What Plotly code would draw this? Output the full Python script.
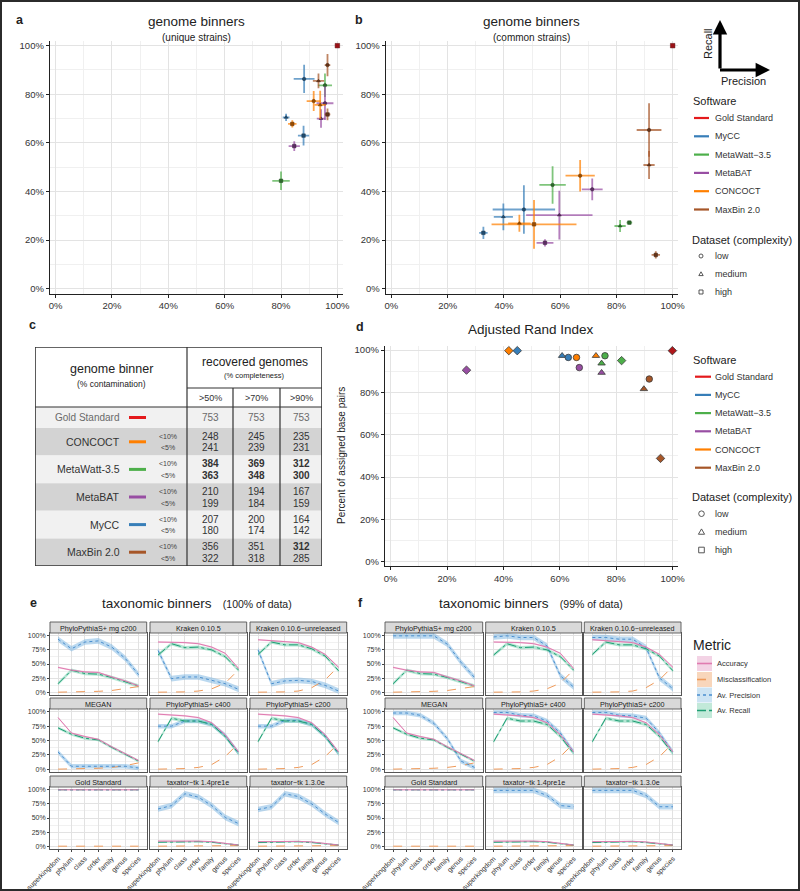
import plotly.graph_objects as go

W, H = 800, 891
FONT = "Liberation Sans, Arial, Helvetica, sans-serif"
INK = "#222222"

# ---------------- shared categories ----------------
SOFTWARE = ["Gold Standard", "MyCC", "MetaWatt-3.5", "MetaBAT", "CONCOCT", "MaxBin 2.0"]
SOFTWARE_LEGEND = ["Gold Standard", "MyCC", "MetaWatt\u22123.5", "MetaBAT", "CONCOCT", "MaxBin 2.0"]
SOFTWARE_COLORS = ["#e41a1c", "#377eb8", "#4daf4a", "#984ea3", "#ff7f00", "#a65628"]
COMPLEXITY = ["low", "medium", "high"]

# ---------------- panel a: unique strains ----------------
A_TOOL = ["Gold Standard", "MyCC", "MyCC", "MyCC", "CONCOCT", "CONCOCT", "CONCOCT",
          "MetaBAT", "MetaBAT", "MetaBAT", "MaxBin 2.0", "MaxBin 2.0", "MaxBin 2.0",
          "MetaWatt-3.5", "MetaWatt-3.5"]
A_COMPLEXITY = ["high", "low", "medium", "high", "low", "medium", "high",
                "low", "medium", "high", "low", "medium", "high", "low", "high"]
A_PRECISION = [100, 88.2, 81.8, 88.0, 91.6, 93.9, 84.0, 95.6, 94.2, 84.7, 96.5, 93.3, 96.5, 95.6, 80.0]
A_PRECISION_ERR = [0, 3.7, 1.2, 2.0, 2.5, 2.0, 1.5, 3.0, 1.5, 2.0, 1.0, 2.0, 1.0, 2.5, 3.1]
A_RECALL = [100, 86.3, 70.5, 63.0, 77.2, 75.6, 67.8, 76.3, 70.0, 58.7, 92.0, 85.5, 71.7, 83.7, 44.4]
A_RECALL_ERR = [0, 5.8, 1.5, 4.1, 4.1, 5.8, 1.5, 6.9, 3.8, 2.0, 4.6, 3.0, 2.4, 4.8, 3.8]

# ---------------- panel b: common strains ----------------
B_TOOL = ["Gold Standard", "MaxBin 2.0", "MaxBin 2.0", "MaxBin 2.0", "CONCOCT", "CONCOCT", "CONCOCT",
          "MetaBAT", "MetaBAT", "MetaBAT", "MetaWatt-3.5", "MetaWatt-3.5", "MetaWatt-3.5",
          "MyCC", "MyCC", "MyCC"]
B_COMPLEXITY = ["high", "low", "medium", "high", "low", "medium", "high",
                "low", "medium", "high", "low", "medium", "high", "low", "medium", "high"]
B_PRECISION = [100, 91.6, 91.6, 94.0, 67.1, 45.5, 50.7, 71.4, 59.7, 54.6, 57.3, 81.3, 84.6, 47.1, 39.8, 32.7]
B_PRECISION_ERR = [0, 4.4, 2.0, 1.5, 5.2, 4.0, 15.1, 3.7, 11.8, 3.0, 4.7, 2.0, 1.0, 11.1, 3.4, 1.5]
B_RECALL = [100, 65.3, 50.9, 13.9, 46.5, 26.9, 26.5, 40.9, 30.3, 18.9, 42.7, 25.8, 27.2, 32.6, 29.6, 23.0]
B_RECALL_ERR = [0, 11.0, 5.8, 1.5, 6.5, 3.5, 10.0, 4.5, 10.0, 1.5, 7.7, 2.5, 0.8, 10.0, 5.5, 2.5]

# ---------------- panel c: recovered genomes table ----------------
TABLE_TOOLS = ["Gold Standard", "CONCOCT", "MetaWatt-3.5", "MetaBAT", "MyCC", "MaxBin 2.0"]
TABLE_COLUMNS = [">50%", ">70%", ">90%"]
TABLE_CONTAMINATION = ["<10%", "<5%"]
TABLE_LT10 = [[753, 753, 753], [248, 245, 235], [384, 369, 312],
              [210, 194, 167], [207, 200, 164], [356, 351, 312]]
TABLE_LT5 = [None, [241, 239, 231], [363, 348, 300],
             [199, 184, 159], [180, 174, 142], [322, 318, 285]]
TABLE_BOLD_LT10 = [[0, 0, 0], [0, 0, 0], [1, 1, 1], [0, 0, 0], [0, 0, 0], [0, 0, 1]]
TABLE_BOLD_LT5 = [None, [0, 0, 0], [1, 1, 1], [0, 0, 0], [0, 0, 0], [0, 0, 0]]

# ---------------- panel d: adjusted rand index ----------------
D_TOOL = ["CONCOCT", "MyCC", "MetaBAT", "MyCC", "MyCC", "CONCOCT", "MetaBAT", "CONCOCT",
          "MetaWatt-3.5", "MetaWatt-3.5", "MetaBAT", "MetaWatt-3.5", "MaxBin 2.0", "MaxBin 2.0",
          "MaxBin 2.0", "Gold Standard"]
D_COMPLEXITY = ["high", "high", "high", "medium", "low", "low", "low", "medium",
                "low", "medium", "medium", "high", "low", "medium", "high", "high"]
D_ARI = [41.9, 44.9, 26.9, 60.8, 63.0, 65.9, 66.9, 72.8, 76.0, 74.8, 74.8, 81.9, 91.7, 89.8, 95.7, 99.9]
D_ASSIGNED = [99.7, 99.7, 90.5, 97.3, 96.5, 96.5, 91.7, 97.3, 97.3, 93.7, 89.3, 95.0, 86.3, 81.6, 48.8, 99.7]

# ---------------- panels e / f: taxonomic binners ----------------
RANKS = ["superkingdom", "phylum", "class", "order", "family", "genus", "species"]
FACETS = ["PhyloPythiaS+ mg c200", "Kraken 0.10.5", "Kraken 0.10.6\u2212unreleased",
          "MEGAN", "PhyloPythiaS+ c400", "PhyloPythiaS+ c200",
          "Gold Standard", "taxator\u2212tk 1.4pre1e", "taxator\u2212tk 1.3.0e"]
METRICS = ["Accuracy", "Misclassification", "Av. Precision", "Av. Recall"]

E_ACCURACY = [
    [44, 39, 36, 35, 27, 20, 11],
    [89, 89, 88, 86, 80, 69, 42],
    [93, 91, 89, 88, 80, 67, 44],
    [90, 63, 57, 52, 39, 27, 15],
    [96, 95, 93, 90, 81, 60, 30],
    [96, 95, 93, 90, 81, 60, 30],
    [100, 100, 100, 100, 100, 100, 100],
    [9, 9, 9.5, 9, 8, 5, 2],
    [8, 8.5, 9, 8.5, 7.5, 5, 2],
]
E_RECALL = [
    [15, 39, 33, 32, 26, 18, 11],
    [66, 86, 79, 80, 75, 63, 39],
    [67, 89, 84, 84, 77, 64, 38],
    [72, 61, 54, 51, 38, 26, 14],
    [48, 89, 84, 84, 78, 57, 27],
    [48, 89, 84, 84, 78, 57, 27],
    [100, 100, 100, 100, 100, 100, 100],
    [7, 7.5, 8, 8, 7, 4, 2],
    [6.5, 7, 8, 8, 6.5, 4, 2],
]
E_PRECISION = [
    [94, 77, 89, 91, 80, 60, 31],
    [74, 24, 27, 27, 21, 15, 5],
    [75, 15, 20, 21, 19, 12, 2],
    [30, 5, 5, 5, 6, 5, 2],
    [75, 75, 84, 84, 78, 59, 28],
    [75, 75, 85, 85, 78, 58, 27],
    [100, 100, 100, 100, 100, 100, 100],
    [66, 72, 93, 87, 72, 51, 40],
    [65, 70, 93, 88, 75, 57, 42],
]
E_MISCLASS = [
    [0, 0.3, 0.8, 1.5, 3, 6, 10],
    [0, 0, 0.5, 2, 6, 16, 40],
    [0, 0, 0.5, 2, 8, 22, 46],
    [0, 0, 1, 1.5, 3, 6, 11],
    [0, 0.5, 1, 3, 8, 22, 45],
    [0, 0.5, 1, 3, 8, 22, 45],
    [0, 0, 0, 0, 0, 0, 0],
    [0, 0, 0, 0, 0.3, 0.6, 1],
    [0, 0, 0, 0, 0.3, 0.6, 1],
]
F_ACCURACY = E_ACCURACY
F_RECALL = E_RECALL
F_MISCLASS = E_MISCLASS
F_PRECISION = [
    [100, 100, 100, 100, 85, 53, 26],
    [98, 100, 97, 97, 82, 29, 9],
    [97, 97, 94, 94, 79, 25, 6],
    [98, 98, 94, 80, 53, 14, 3],
    [99, 99, 94, 93, 84, 63, 30],
    [99, 99, 94, 93, 89, 63, 30],
    [100, 100, 100, 100, 100, 100, 100],
    [99, 99, 99, 99, 90, 72, 70],
    [99, 99, 99, 99, 90, 70, 70],
]
# spread (half width of the shaded ribbons) per facet
PRECISION_SPREAD = [5, 5, 5, 4, 4, 4, 0, 5, 5]
RECALL_SPREAD = [3, 3, 3, 2.5, 3, 3, 0, 1.5, 1.5]
ACCURACY_SPREAD = [1.5, 1.5, 1.5, 1.5, 1.5, 1.5, 0, 1, 1]

# ---------------- helpers ----------------
def X(p):
    return p / W


def Y(p):
    return 1 - p / H


def rgba(hex_color, a):
    h = hex_color.lstrip("#")
    return "rgba(%d,%d,%d,%s)" % (int(h[0:2], 16), int(h[2:4], 16), int(h[4:6], 16), a)


def darken(hex_color, f=0.55):
    h = hex_color.lstrip("#")
    r, g, b = (int(h[i:i + 2], 16) for i in (0, 2, 4))
    return "#%02x%02x%02x" % (int(r * f), int(g * f), int(b * f))


COLOR_OF = dict(zip(SOFTWARE, SOFTWARE_COLORS))
SYMBOL_AB = dict(zip(COMPLEXITY, ["circle", "triangle-up", "square"]))
SYMBOL_D = dict(zip(COMPLEXITY, ["circle", "triangle-up", "diamond"]))

layout = dict(width=W, height=H, margin=dict(l=0, r=0, t=0, b=0, autoexpand=False),
              template="none",
              paper_bgcolor="white", plot_bgcolor="white", showlegend=False,
              font=dict(family=FONT, color=INK))
shapes, annotations, traces = [], [], []


def add_axes(i, x0, x1, y0, y1, xa, ya):
    s = "" if i == 1 else str(i)
    layout["xaxis" + s] = dict(domain=[X(x0), X(x1)], anchor="y" + s, automargin=False, **xa)
    layout["yaxis" + s] = dict(domain=[Y(y1), Y(y0)], anchor="x" + s, automargin=False, **ya)
    return "x" + s, "y" + s


def text(x, y, t, size=10, xanchor="center", yanchor="middle", color=INK, angle=0, ref=("paper", "paper")):
    if ref[0] == "paper":
        x, y = X(x), Y(y)
    annotations.append(dict(x=x, y=y, xref=ref[0], yref=ref[1], text=t, showarrow=False,
                            xanchor=xanchor, yanchor=yanchor, textangle=angle,
                            font=dict(size=size, color=color, family=FONT)))


PCT_VALS = [0, 20, 40, 60, 80, 100]


def pct_axis():
    return dict(range=[-2, 102], tickvals=PCT_VALS, ticktext=["%d%%" % v for v in PCT_VALS],
                showgrid=True, gridcolor="#e3e3e3", gridwidth=1,
                minor=dict(showgrid=True, gridcolor="#f0f0f0", tickvals=[10, 30, 50, 70, 90]),
                zeroline=False, showline=True, linecolor=INK, linewidth=1.4,
                ticks="outside", ticklen=3, tickcolor=INK, tickwidth=1,
                tickfont=dict(size=9.5, color="#333"))


# ---------------- panels a and b ----------------
def recall_precision(xr, yr, tools, comp, prec, prec_err, rec, rec_err):
    for s in SOFTWARE:
        idx = [i for i, t in enumerate(tools) if t == s]
        col = COLOR_OF[s]
        gold = s == "Gold Standard"
        traces.append(go.Scatter(
            x=[prec[i] for i in idx], y=[rec[i] for i in idx], xaxis=xr, yaxis=yr, mode="markers",
            error_x=dict(type="data", array=[prec_err[i] for i in idx], width=0,
                         thickness=1.8, color=rgba(col, 0.72), visible=not gold),
            error_y=dict(type="data", array=[rec_err[i] for i in idx], width=0,
                         thickness=1.8, color=rgba(col, 0.72), visible=not gold),
            marker=dict(size=4.5 if gold else 3.5,
                        symbol=["square" if gold else SYMBOL_AB[comp[i]] for i in idx],
                        color="#9b1116" if gold else darken(col, 0.6),
                        line=dict(width=0.5, color=darken(col, 0.4))),
            cliponaxis=False, hoverinfo="skip"))


xa_, ya_ = add_axes(1, 50, 343, 40.8, 293.6, pct_axis(), pct_axis())
recall_precision(xa_, ya_, A_TOOL, A_COMPLEXITY, A_PRECISION, A_PRECISION_ERR, A_RECALL, A_RECALL_ERR)
xb_, yb_ = add_axes(2, 385.8, 678.3, 40.8, 293.6, pct_axis(), pct_axis())
recall_precision(xb_, yb_, B_TOOL, B_COMPLEXITY, B_PRECISION, B_PRECISION_ERR, B_RECALL, B_RECALL_ERR)

text(196.5, 21.5, "genome binners", 13.5)
text(196.5, 37, "(unique strains)", 10)
text(531, 21.5, "genome binners", 13.5)
text(531, 37, "(common strains)", 10)

# ---------------- panel d ----------------
xd_, yd_ = add_axes(3, 385, 678.3, 345.8, 565.9, pct_axis(), pct_axis())
for s in SOFTWARE:
    idx = [i for i, t in enumerate(D_TOOL) if t == s]
    col = COLOR_OF[s]
    traces.append(go.Scatter(
        x=[D_ARI[i] for i in idx], y=[D_ASSIGNED[i] for i in idx], xaxis=xd_, yaxis=yd_,
        mode="markers", cliponaxis=False, hoverinfo="skip",
        marker=dict(size=6.5, symbol=[SYMBOL_D[D_COMPLEXITY[i]] for i in idx],
                    color="#b0171b" if s == "Gold Standard" else col,
                    line=dict(width=0.8, color="#3a3a3a"))))
text(531, 329, "Adjusted Rand Index", 13.5)
text(341, 456, "Percent of assigned base pairs", 10, angle=-90)

# ---------------- panel c: table ----------------
TX0, TX1, TY0, TY1 = 35, 322, 347, 566
SPLIT = 187
COL_EDGES = [187, 233, 280, 322]
SUB = 388
HEAD = 407
GOLD_H = 21
xt_, yt_ = add_axes(4, TX0, TX1, TY0, TY1,
                    dict(range=[TX0, TX1], visible=False, fixedrange=True),
                    dict(range=[TY1, TY0], visible=False, fixedrange=True))


def tshape(kind, x0, y0, x1, y1, **kw):
    d = dict(type=kind, xref=xt_, yref=yt_, x0=x0, y0=y0, x1=x1, y1=y1, layer="above")
    d.update(kw)
    shapes.append(d)


row_h = (TY1 - HEAD - GOLD_H) / (len(TABLE_TOOLS) - 1)
row_tops = [HEAD] + [HEAD + GOLD_H + k * row_h for k in range(len(TABLE_TOOLS) - 1)]
row_bottoms = [HEAD + GOLD_H] + [HEAD + GOLD_H + (k + 1) * row_h for k in range(len(TABLE_TOOLS) - 1)]
for k, tool in enumerate(TABLE_TOOLS):
    fill = "#f1f1f1" if k % 2 == 0 else "#d3d3d3"
    tshape("rect", TX0, row_tops[k], TX1, row_bottoms[k], fillcolor=fill, line=dict(width=0), layer="below")
    yc = (row_tops[k] + row_bottoms[k]) / 2
    gold = tool == "Gold Standard"
    text(122, yc, tool, 10.5 if not gold else 10, xanchor="right",
         color="#6a6a6a" if gold else "#333", ref=(xt_, yt_))
    tshape("line", 129, yc, 146, yc, line=dict(color=COLOR_OF[tool], width=3))
    col_centers = [(COL_EDGES[j] + COL_EDGES[j + 1]) / 2 for j in range(3)]
    if gold:
        for j in range(3):
            text(col_centers[j], yc, str(TABLE_LT10[k][j]), 10, color="#6a6a6a", ref=(xt_, yt_))
    else:
        y_hi = row_tops[k] + row_h * 0.3
        y_lo = row_tops[k] + row_h * 0.72
        text(168, y_hi, TABLE_CONTAMINATION[0], 7, color="#444", ref=(xt_, yt_))
        text(168, y_lo, TABLE_CONTAMINATION[1], 7, color="#444", ref=(xt_, yt_))
        for j in range(3):
            v1 = str(TABLE_LT10[k][j])
            v2 = str(TABLE_LT5[k][j])
            if TABLE_BOLD_LT10[k][j]:
                v1 = "<b>%s</b>" % v1
            if TABLE_BOLD_LT5[k][j]:
                v2 = "<b>%s</b>" % v2
            text(col_centers[j], y_hi, v1, 10, color="#333", ref=(xt_, yt_))
            text(col_centers[j], y_lo, v2, 10, color="#333", ref=(xt_, yt_))

tshape("line", SPLIT, TY0, SPLIT, TY1, line=dict(color="#333", width=1.2))
tshape("line", SPLIT, SUB, TX1, SUB, line=dict(color="#333", width=1.2))
for xe in COL_EDGES[1:-1]:
    tshape("line", xe, SUB, xe, TY1, line=dict(color="#333", width=1.2))
tshape("line", TX0, HEAD, TX1, HEAD, line=dict(color="#333", width=1.2))
tshape("rect", TX0, TY0, TX1, TY1, line=dict(color="#333", width=1.6))
text(111, 369, "genome binner", 12.5, ref=(xt_, yt_))
text(111, 384, "(% contamination)", 8.5, ref=(xt_, yt_))
text(254.5, 362, "recovered genomes", 12, ref=(xt_, yt_))
text(254.5, 375.5, "(% completeness)", 7.5, ref=(xt_, yt_))
for j, lab in enumerate(TABLE_COLUMNS):
    text((COL_EDGES[j] + COL_EDGES[j + 1]) / 2, 398, lab, 9, color="#333", ref=(xt_, yt_))

# ---------------- panels e and f ----------------
E_COLS = [(50, 146.7), (150, 246.7), (250, 346.7)]
F_COLS = [(385, 482.7), (485.7, 581.7), (584.3, 681)]
ROWS = [(622, 633, 695), (698, 709, 772), (776, 787, 849)]
M_COL = dict(acc="#e07bb0", mis="#ef9a5a", prec="#4a8fcf", rec="#1f9e74")
M_BAND = dict(acc="rgba(231,140,190,0.35)", prec="rgba(120,180,225,0.5)", rec="rgba(90,200,160,0.45)")
Y_TICKS = [0, 25, 50, 75, 100]


def ribbon(xr, yr, vals, spread, color):
    if spread <= 0:
        return
    xs = list(range(len(RANKS)))
    traces.append(go.Scatter(x=xs, y=[v + spread for v in vals], xaxis=xr, yaxis=yr, mode="lines",
                             line=dict(width=0), hoverinfo="skip"))
    traces.append(go.Scatter(x=xs, y=[v - spread for v in vals], xaxis=xr, yaxis=yr, mode="lines",
                             line=dict(width=0), fill="tonexty", fillcolor=color, hoverinfo="skip"))


def facet_panel(start_idx, cols, prec, acc, rec, mis):
    for k, name in enumerate(FACETS):
        r, c = divmod(k, 3)
        x0, x1 = cols[c]
        st, pt, pb = ROWS[r]
        xa = dict(range=[-0.6, 6.6], tickvals=list(range(len(RANKS))), ticktext=RANKS,
                  showticklabels=(r == 2), ticks="outside" if r == 2 else "", ticklen=2,
                  tickcolor="#444", tickangle=-45, tickfont=dict(size=7, color="#333"),
                  showgrid=True, gridcolor="#e2e2e2", gridwidth=0.8, zeroline=False,
                  showline=True, mirror=True, linecolor="#555", linewidth=0.9)
        ya = dict(range=[-5, 105], tickvals=Y_TICKS, ticktext=["%d%%" % v for v in Y_TICKS],
                  showticklabels=(c == 0), ticks="outside" if c == 0 else "", ticklen=2,
                  tickcolor="#444", tickfont=dict(size=7, color="#333"),
                  showgrid=True, gridcolor="#e2e2e2", gridwidth=0.8, zeroline=False,
                  minor=dict(showgrid=True, gridcolor="#f1f1f1", tickvals=[12.5, 37.5, 62.5, 87.5]),
                  showline=True, mirror=True, linecolor="#555", linewidth=0.9)
        xr, yr = add_axes(start_idx + k, x0, x1, pt, pb, xa, ya)
        ribbon(xr, yr, prec[k], PRECISION_SPREAD[k], M_BAND["prec"])
        ribbon(xr, yr, rec[k], RECALL_SPREAD[k], M_BAND["rec"])
        ribbon(xr, yr, acc[k], ACCURACY_SPREAD[k], M_BAND["acc"])
        xs = list(range(len(RANKS)))
        for vals, key, dash in ((mis[k], "mis", "dash"), (prec[k], "prec", "dot"),
                                (rec[k], "rec", "dashdot"), (acc[k], "acc", "solid")):
            traces.append(go.Scatter(x=xs, y=vals, xaxis=xr, yaxis=yr, mode="lines", hoverinfo="skip",
                                     line=dict(color=M_COL[key], width=1, dash=dash)))
        shapes.append(dict(type="rect", xref="paper", yref="paper", x0=X(x0), x1=X(x1), y0=Y(pt), y1=Y(st),
                           fillcolor="#d9d9d9", line=dict(color="#555", width=0.9)))
        text((x0 + x1) / 2, (st + pt) / 2 + 0.5, name, 7.2, color="#1a1a1a")


facet_panel(5, E_COLS, E_PRECISION, E_ACCURACY, E_RECALL, E_MISCLASS)
facet_panel(14, F_COLS, F_PRECISION, F_ACCURACY, F_RECALL, F_MISCLASS)
text(196.5, 603, "taxonomic binners&nbsp;&nbsp;&nbsp;<span style='font-size:10.5px'>(100% of data)</span>", 13.5)
text(531, 603, "taxonomic binners&nbsp;&nbsp;&nbsp;<span style='font-size:10.5px'>(99% of data)</span>", 13.5)

# ---------------- legends ----------------
def software_legend(title_y, item_ys, ds_title_y, ds_ys, key_x0, key_x1, sym_x, sym_r):
    text(691, title_y, "Software", 11, xanchor="left")
    for s, lab, yy in zip(SOFTWARE, SOFTWARE_LEGEND, item_ys):
        shapes.append(dict(type="line", xref="paper", yref="paper", x0=X(key_x0), x1=X(key_x1),
                           y0=Y(yy), y1=Y(yy), line=dict(color=COLOR_OF[s], width=2.2)))
        text(713, yy, lab, 9, xanchor="left", color="#333")
    text(690, ds_title_y, "Dataset (complexity)", 11, xanchor="left")
    for comp, yy in zip(COMPLEXITY, ds_ys):
        if comp == "low":
            shapes.append(dict(type="circle", xref="paper", yref="paper", x0=X(sym_x - sym_r), x1=X(sym_x + sym_r),
                               y0=Y(yy + sym_r), y1=Y(yy - sym_r), line=dict(color="#444", width=0.9)))
        elif comp == "medium":
            path = "M %f %f L %f %f L %f %f Z" % (X(sym_x - sym_r * 1.1), Y(yy + sym_r * 0.8),
                                                   X(sym_x + sym_r * 1.1), Y(yy + sym_r * 0.8),
                                                   X(sym_x), Y(yy - sym_r * 1.1))
            shapes.append(dict(type="path", xref="paper", yref="paper", path=path, line=dict(color="#444", width=0.9)))
        else:
            shapes.append(dict(type="rect", xref="paper", yref="paper", x0=X(sym_x - sym_r), x1=X(sym_x + sym_r),
                               y0=Y(yy + sym_r), y1=Y(yy - sym_r), line=dict(color="#444", width=0.9)))
        text(713, yy, comp, 9, xanchor="left", color="#333")


software_legend(101.5, [118, 136.3, 154.6, 172.9, 191.2, 209.5], 240, [256, 274, 292], 694, 709, 701, 2)
software_legend(360, [376.7, 394.9, 413.1, 431.3, 449.5, 467.7], 497, [513.7, 532, 550], 695, 711, 701.5, 2.8)

text(691, 645, "Metric", 14, xanchor="left")
METRIC_STYLE = [("#f3d3e5", M_COL["acc"], "solid"), ("#f8d6bb", M_COL["mis"], "dash"),
                ("#cce3f3", M_COL["prec"], "dot"), ("#c2e9d9", M_COL["rec"], "dashdot")]
for lab, yy, (bg, lc, dash) in zip(METRICS, [663.5, 679.5, 695, 710.5], METRIC_STYLE):
    shapes.append(dict(type="rect", xref="paper", yref="paper", x0=X(697), x1=X(712), y0=Y(yy + 7.5), y1=Y(yy - 7.5),
                       fillcolor=bg, line=dict(width=0)))
    shapes.append(dict(type="line", xref="paper", yref="paper", x0=X(697), x1=X(712), y0=Y(yy), y1=Y(yy),
                       line=dict(color=lc, width=1.6, dash=dash)))
    text(715, yy, lab, 7.5, xanchor="left", color="#333")

# Recall / Precision arrow glyph
annotations.append(dict(x=X(720), y=Y(20), xref="paper", yref="paper", ax=0, ay=50, axref="pixel", ayref="pixel",
                        showarrow=True, arrowhead=2, arrowsize=0.9, arrowwidth=3.2, arrowcolor="#000", text=""))
annotations.append(dict(x=X(770), y=Y(70), xref="paper", yref="paper", ax=-51.5, ay=0, axref="pixel", ayref="pixel",
                        showarrow=True, arrowhead=2, arrowsize=0.9, arrowwidth=3.2, arrowcolor="#000", text=""))
text(708, 44, "Recall", 11, angle=-90)
text(743, 81, "Precision", 11)

# panel letters
for lab, xx, yy in (("a", 20, 20), ("b", 359, 20), ("c", 32, 325), ("d", 360, 327), ("e", 33, 603), ("f", 360, 603)):
    text(xx, yy, "<b>%s</b>" % lab, 12.5)

# outer frame
shapes.append(dict(type="rect", xref="paper", yref="paper", x0=0, x1=1, y0=0, y1=1,
                   line=dict(color="#2b2b2b", width=4)))

layout["shapes"] = shapes
layout["annotations"] = annotations
fig = go.Figure(data=traces, layout=layout)
fig.write_html("out.html", config={"displayModeBar": False},
               post_script="document.body.style.margin='0';document.body.style.overflow='hidden';")
